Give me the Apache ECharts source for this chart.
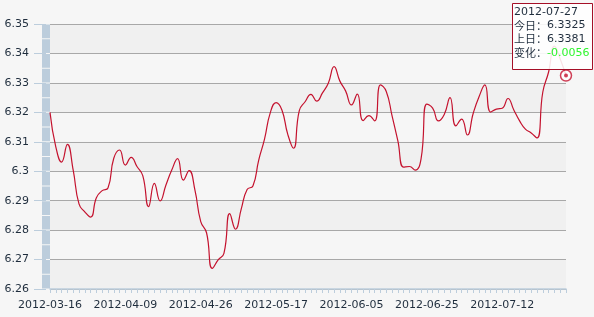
<!DOCTYPE html>
<html>
<head>
<meta charset="utf-8">
<script src="https://cdn.jsdelivr.net/npm/echarts@6/dist/echarts.min.js"></script>
<style>
html,body{margin:0;padding:0;background:#f6f6f6;}
#c{width:594px;height:317px;}
</style>
</head>
<body>
<div id="c"></div>
<script>
var dates = [
'2012-03-16','2012-03-19','2012-03-20','2012-03-21','2012-03-22','2012-03-23',
'2012-03-26','2012-03-27','2012-03-28','2012-03-29','2012-03-30',
'2012-04-05','2012-04-06',
'2012-04-09','2012-04-10','2012-04-11','2012-04-12','2012-04-13',
'2012-04-16','2012-04-17','2012-04-18','2012-04-19','2012-04-20',
'2012-04-23','2012-04-24','2012-04-25','2012-04-26','2012-04-27',
'2012-05-02','2012-05-03','2012-05-04',
'2012-05-07','2012-05-08','2012-05-09','2012-05-10','2012-05-11',
'2012-05-14','2012-05-15','2012-05-16','2012-05-17','2012-05-18',
'2012-05-21','2012-05-22','2012-05-23','2012-05-24','2012-05-25',
'2012-05-28','2012-05-29','2012-05-30','2012-05-31','2012-06-01',
'2012-06-04','2012-06-05','2012-06-06','2012-06-07','2012-06-08',
'2012-06-11','2012-06-12','2012-06-13','2012-06-14','2012-06-15',
'2012-06-18','2012-06-19','2012-06-20','2012-06-21',
'2012-06-25','2012-06-26','2012-06-27','2012-06-28','2012-06-29',
'2012-07-02','2012-07-03','2012-07-04','2012-07-05','2012-07-06',
'2012-07-09','2012-07-10','2012-07-11','2012-07-12','2012-07-13',
'2012-07-16','2012-07-17','2012-07-18','2012-07-19','2012-07-20',
'2012-07-23','2012-07-24','2012-07-25','2012-07-26','2012-07-27'
];
var rates = [
6.3200,6.3083,6.3031,6.3091,6.3004,6.2889,6.2862,6.2844,6.2910,6.2934,
6.2943,6.3044,6.3072,6.3021,6.3047,6.3016,6.2985,6.2880,6.2959,6.2899,
6.2953,6.3004,6.3043,6.2970,6.3002,6.2936,6.2829,6.2791,6.2670,6.2699,
6.2721,6.2856,6.2803,6.2873,6.2938,6.2950,6.3038,6.3109,6.3199,6.3233,
6.3208,6.3126,6.3078,6.3206,6.3236,6.3261,6.3238,6.3266,6.3299,6.3355,
6.3306,6.3272,6.3225,6.3262,6.3172,6.3189,6.3171,6.3293,6.3271,6.3188,
6.3103,6.3014,6.3016,6.3004,6.3042,6.3228,6.3214,6.3171,6.3193,6.3250,
6.3154,6.3177,6.3123,6.3197,6.3253,6.3293,6.3201,6.3211,6.3214,6.3247,
6.3208,6.3171,6.3143,6.3130,6.3113,6.3269,6.3337,6.3425,6.3381,6.3325
];
var yMin = 6.26, yMax = 6.35, yStep = 0.01;
var tipLabels = ['今日：', '上日：', '变化：'];

var n = rates.length;
var lastDate = dates[n - 1];
var today = rates[n - 1];
var prev = rates[n - 2];
var change = (today - prev).toFixed(4);

var chart = echarts.init(document.getElementById('c'), null, {renderer: 'canvas'});
var txt = '#1f2d3d';
var font = 'DejaVu Sans';
var lh = 13.7;
chart.setOption({
  backgroundColor: '#f6f6f6',
  animation: false,
  grid: {left: 50, right: 28, top: 24, bottom: 28},
  xAxis: {
    type: 'category',
    data: dates,
    boundaryGap: false,
    axisLine: {show: true, lineStyle: {color: '#bccddc', width: 1.5}},
    axisTick: {show: true, interval: 0, length: 4, lineStyle: {color: '#bccddc'}},
    axisLabel: {interval: 12, color: txt, fontFamily: font, fontSize: 11, margin: 11},
    splitLine: {show: false}
  },
  yAxis: [{
    type: 'value',
    min: yMin, max: yMax, interval: yStep,
    offset: 4,
    axisLine: {show: true, lineStyle: {color: '#bccddc', width: 8, cap: 'butt',
      type: [13.72, 1], dashOffset: -0.5}},
    axisTick: {show: true, length: 12, lineStyle: {color: '#bccddc'}},
    axisLabel: {color: txt, fontFamily: font, fontSize: 11, margin: 17,
      formatter: function (v) { return (+v.toFixed(2)).toString(); }},
    splitLine: {show: true, lineStyle: {color: '#a8a8a8', width: 1.2}},
    splitArea: {show: true, areaStyle: {color: ['#f0f0f0', '#f6f6f6']}}
  }],
  series: [{
    type: 'line',
    data: rates,
    smooth: 0.5,
    showSymbol: false,
    lineStyle: {color: '#c4122e', width: 1.2},
    z: 3
  }, {
    type: 'scatter',
    data: [[lastDate, today]],
    symbol: 'circle',
    symbolSize: 11,
    itemStyle: {color: '#ffffff', borderColor: '#c4122e', borderWidth: 1.5},
    z: 4
  }, {
    type: 'scatter',
    data: [[lastDate, today]],
    symbol: 'circle',
    symbolSize: 4,
    itemStyle: {color: '#c4122e'},
    z: 5
  }],
  graphic: [{
    type: 'rect',
    zlevel: 2, z: 100,
    shape: {x: 512.5, y: 3.5, width: 80, height: 66},
    style: {fill: 'rgba(255,255,255,0.88)', stroke: '#a50f27', lineWidth: 1}
  }, {
    type: 'text', zlevel: 2, z: 101,
    x: 514, y: 11.7,
    style: {text: lastDate, font: '11px "DejaVu Sans"', fill: txt, verticalAlign: 'middle'}
  }, {
    type: 'text', zlevel: 2, z: 101,
    x: 514, y: 11.7 + lh,
    style: {text: '{l|' + tipLabels[0] + '}{v|' + today.toFixed(4) + '}', verticalAlign: 'middle',
      rich: {l: {fontFamily: 'Noto Sans CJK SC', fontSize: 11, fill: txt},
             v: {fontFamily: 'DejaVu Sans', fontSize: 11, fill: txt}}}
  }, {
    type: 'text', zlevel: 2, z: 101,
    x: 514, y: 11.7 + 2 * lh,
    style: {text: '{l|' + tipLabels[1] + '}{v|' + prev.toFixed(4) + '}', verticalAlign: 'middle',
      rich: {l: {fontFamily: 'Noto Sans CJK SC', fontSize: 11, fill: txt},
             v: {fontFamily: 'DejaVu Sans', fontSize: 11, fill: txt}}}
  }, {
    type: 'text', zlevel: 2, z: 101,
    x: 514, y: 11.7 + 3 * lh,
    style: {text: '{l|' + tipLabels[2] + '}{g|' + change + '}', verticalAlign: 'middle',
      rich: {l: {fontFamily: 'Noto Sans CJK SC', fontSize: 11, fill: txt},
             g: {fontFamily: 'DejaVu Sans', fontSize: 11, fill: '#2ff52f'}}}
  }]
});
</script>
</body>
</html>
